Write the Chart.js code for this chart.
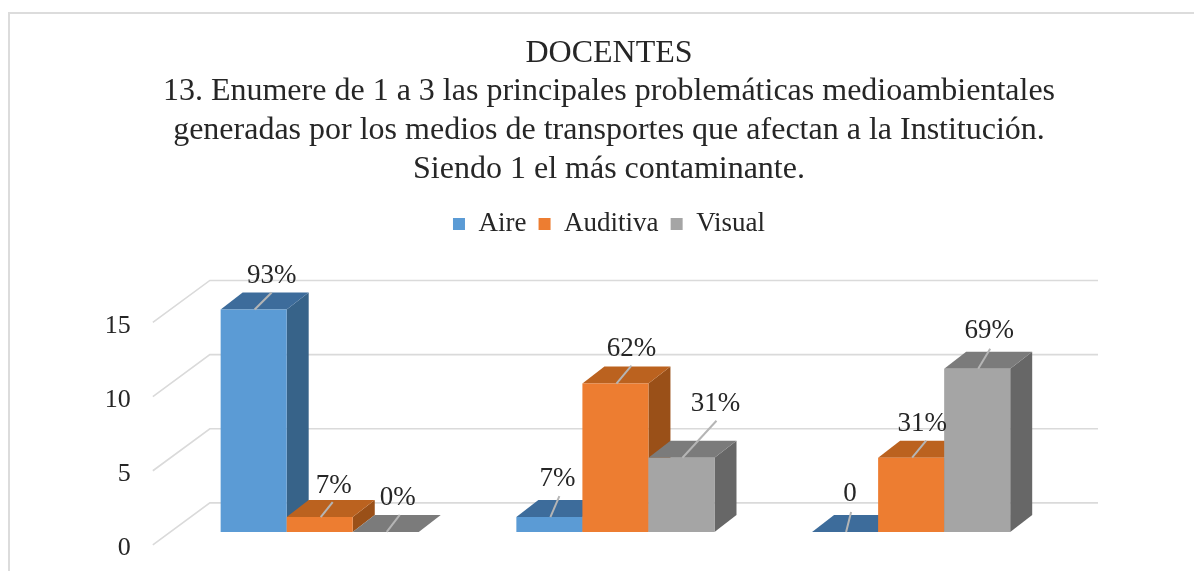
<!DOCTYPE html>
<html lang="es">
<head>
<meta charset="utf-8">
<style>
html,body{margin:0;padding:0;background:#fff;}
canvas{display:block;filter:blur(0.4px);}
</style>
<script src="https://cdn.jsdelivr.net/npm/chart.js@4/dist/chart.umd.min.js"></script>
</head>
<body>
<canvas id="c" width="1194" height="571"></canvas>
<script>
const titleLines = [
  'DOCENTES',
  '13. Enumere de 1 a 3 las principales problemáticas medioambientales',
  'generadas por los medios de transportes que afectan a la Institución.',
  'Siendo 1 el más contaminante.'
];
const categories = ['1', '2', '3'];
const seriesNames = ['Aire', 'Auditiva', 'Visual'];
const aire = [15, 1, 0];
const auditiva = [1, 10, 5];
const visual = [0, 5, 11];
const aireLabels = ['93%', '7%', '0'];
const auditivaLabels = ['7%', '62%', '31%'];
const visualLabels = ['0%', '31%', '69%'];
const yTicks = [0, 5, 10, 15];

const FONT = '"Liberation Serif","Times New Roman",serif';
const TEXT = '#262626';
const faces = [
  {front:'#5b9bd5', top:'#3d6c9b', side:'#376389'},
  {front:'#ed7d31', top:'#bb621f', side:'#9a5018'},
  {front:'#a5a5a5', top:'#7b7b7b', side:'#676767'}
];
const labelSets = [aireLabels, auditivaLabels, visualLabels];
// label placement relative to each bar's top centre: [text dx, text dy, leader dx, leader dy]
const labelPlace = [
  [[18,-33.5,17,-17],[8,-38.5,9,-21],[5,-37.5,5,-20]],
  [[14,-31.5,12,-15],[16,-34.5,15,-18],[11,-33.5,14,-17]],
  [[12,-33.5,13,-17],[34,-53.5,34,-37],[12,-37.5,12,-20]]
];
const DX = 22, DY = 17;

function poly(ctx, pts, fill){
  ctx.beginPath();
  pts.forEach((p,i)=> i ? ctx.lineTo(p[0],p[1]) : ctx.moveTo(p[0],p[1]));
  ctx.closePath();
  ctx.fillStyle = fill;
  ctx.fill();
}

const scene3d = {
  id:'scene3d',
  beforeDraw(chart){
    const ctx = chart.ctx;
    ctx.save();
    ctx.strokeStyle = '#dcdcdc';
    ctx.lineWidth = 2;
    ctx.beginPath();
    ctx.moveTo(9, chart.height);
    ctx.lineTo(9, 13);
    ctx.lineTo(chart.width, 13);
    ctx.stroke();
    ctx.restore();
  },
  beforeDatasetsDraw(chart){
    const ctx = chart.ctx, yS = chart.scales.y, y2 = chart.scales.y2, xS = chart.scales.x;
    ctx.save();
    ctx.strokeStyle = '#dadada';
    ctx.lineWidth = 1.6;
    yS.ticks.forEach(t=>{
      const y = y2.getPixelForValue(t.value) - 29;
      ctx.beginPath();
      ctx.moveTo(xS.left-19, y+42);
      ctx.lineTo(xS.left+38, y);
      ctx.lineTo(xS.right+39, y);
      ctx.stroke();
    });
    categories.forEach((_,i)=>{
      seriesNames.forEach((_,d)=>{
        const b = chart.getDatasetMeta(d).data[i];
        const l = b.x-b.width/2, r = b.x+b.width/2, top = b.y, base = b.base, f = faces[d];
        poly(ctx, [[r,top],[r+DX,top-DY],[r+DX,base-DY],[r,base]], f.side);
        poly(ctx, [[l,top],[r,top],[r+DX,top-DY],[l+DX,top-DY]], f.top);
        b.draw(ctx);
      });
    });
    ctx.restore();
    return false;
  },
  afterDraw(chart){
    const ctx = chart.ctx;
    ctx.save();
    ctx.textAlign = 'center';
    ctx.textBaseline = 'middle';
    ctx.font = '27px '+FONT;
    categories.forEach((_,i)=>{
      seriesNames.forEach((_,d)=>{
        const b = chart.getDatasetMeta(d).data[i], p = labelPlace[d][i];
        ctx.strokeStyle = '#b5b5b5';
        ctx.lineWidth = 2;
        ctx.beginPath();
        ctx.moveTo(b.x+1, b.y);
        ctx.lineTo(b.x+1+p[2], b.y+p[3]);
        ctx.stroke();
        ctx.fillStyle = TEXT;
        ctx.fillText(labelSets[d][i], b.x+p[0], b.y+p[1]);
      });
    });
    ctx.restore();
  }
};

new Chart(document.getElementById('c'), {
  type:'bar',
  data:{
    labels:categories,
    datasets:[
      {label:seriesNames[0], data:aire, backgroundColor:faces[0].front, yAxisID:'y2'},
      {label:seriesNames[1], data:auditiva, backgroundColor:faces[1].front, yAxisID:'y2'},
      {label:seriesNames[2], data:visual, backgroundColor:faces[2].front, yAxisID:'y2'}
    ]
  },
  plugins:[scene3d],
  options:{
    responsive:false,
    animation:false,
    layout:{padding:{left:105, right:81, top:0, bottom:23}},
    datasets:{bar:{barPercentage:1, categoryPercentage:0.67, borderWidth:0}},
    plugins:{
      title:{display:true, text:titleLines, color:TEXT, padding:{top:34, bottom:9.6},
        font:{family:FONT, size:32, weight:'normal', lineHeight:1.21}},
      legend:{position:'top', labels:{color:TEXT, boxWidth:12, boxHeight:12, padding:12.1,
        font:{family:FONT, size:27}}},
      tooltip:{enabled:false}
    },
    scales:{
      x:{display:false},
      y:{
        position:'left', min:0, max:20.34,
        grid:{display:false, drawTicks:true, tickLength:34}, border:{display:false},
        afterBuildTicks(s){ s.ticks = yTicks.map(v=>({value:v})); },
        afterFit(s){ s.width = 66.85; },
        ticks:{padding:7, color:TEXT, autoSkip:false, font:{family:FONT, size:26}}
      },
      y2:{display:false, min:-1.086, max:19.17},
      yR:{
        position:'right', min:0, max:20,
        grid:{display:false, drawTicks:false}, border:{display:false},
        ticks:{display:false},
        afterFit(s){ s.width = 54; }
      }
    }
  }
});
</script>
</body>
</html>
